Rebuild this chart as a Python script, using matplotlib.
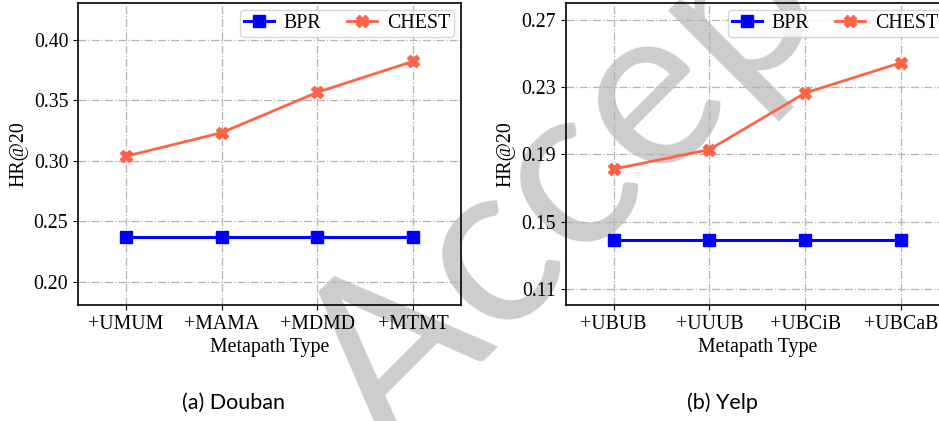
import matplotlib
matplotlib.use("Agg")
import matplotlib.pyplot as plt
import numpy as np

# ---- data ----
douban_paths = ["+UMUM", "+MAMA", "+MDMD", "+MTMT"]
douban_bpr = [0.237, 0.237, 0.237, 0.237]
douban_chest = [0.3036, 0.3231, 0.3565, 0.3821]
douban_yticks = [0.20, 0.25, 0.30, 0.35, 0.40]

yelp_paths = ["+UBUB", "+UUUB", "+UBCiB", "+UBCaB"]
yelp_bpr = [0.1393, 0.1393, 0.1393, 0.1393]
yelp_chest = [0.1812, 0.1928, 0.2264, 0.2444]
yelp_yticks = [0.11, 0.15, 0.19, 0.23, 0.27]

captions = ["(a) Douban", "(b) Yelp"]
series_names = ["BPR", "CHEST"]

W, H = 939, 421
fig = plt.figure(figsize=(W / 100, H / 100), dpi=100)

serif = ["Liberation Serif", "DejaVu Serif"]
FS = 14.3

# watermark
fig.text(388 / W, 1 - 456 / H, "Accepted", fontsize=166, family=["Lato", "DejaVu Sans"],
         color="#cdcdcd", rotation=45, rotation_mode="anchor",
         ha="left", va="baseline", zorder=-5)

def panel(rect, cats, bpr, chest, yticks, ylim):
    ax = fig.add_axes(rect)
    ax.set_facecolor("none")
    x = np.arange(len(cats))
    ax.plot(x, bpr, color="#0000ff", marker="s", markersize=8, lw=2.2, label=series_names[0], zorder=3)
    ax.plot(x, chest, color="#ff6347", marker="X", markersize=8.5, lw=2.0, label=series_names[1], zorder=3)
    ax.set_xlim(-0.5, len(cats) - 0.5)
    ax.set_ylim(*ylim)
    ax.set_xticks(x)
    ax.set_xticklabels(cats, family=serif, fontsize=FS)
    ax.set_yticks(yticks)
    ax.set_yticklabels([f"{v:.2f}" for v in yticks], family=serif, fontsize=FS)
    ax.grid(True, linestyle="-.", color="#b5b5b5", lw=0.9)
    ax.set_axisbelow(True)
    ax.set_xlabel("Metapath Type", family=serif, fontsize=FS, labelpad=3)
    ax.set_ylabel("HR@20", family=serif, fontsize=FS, labelpad=4)
    for s in ax.spines.values():
        s.set_linewidth(1.2)
    ax.legend(loc="upper right", ncol=2, prop={"family": serif, "size": FS},
              handlelength=1.5, handletextpad=0.5, columnspacing=1.3,
              borderpad=0.2, borderaxespad=0.35, fancybox=True)
    return ax

axh = 302 / H
axw = 383 / W
ax1 = panel([78 / W, 1 - 305 / H, axw, axh], douban_paths, douban_bpr, douban_chest,
            douban_yticks, (0.1807, 0.4303))
ax2 = panel([565.7 / W, 1 - 305 / H, axw, axh], yelp_paths, yelp_bpr, yelp_chest,
            yelp_yticks, (0.1005, 0.2799))

for cx, cap in zip([234, 722], captions):
    fig.text(cx / W, 1 - 403 / H, cap, fontsize=15.5, family=["Lato", "DejaVu Sans"],
             ha="center", va="center")

fig.savefig("out.png", dpi=100)
